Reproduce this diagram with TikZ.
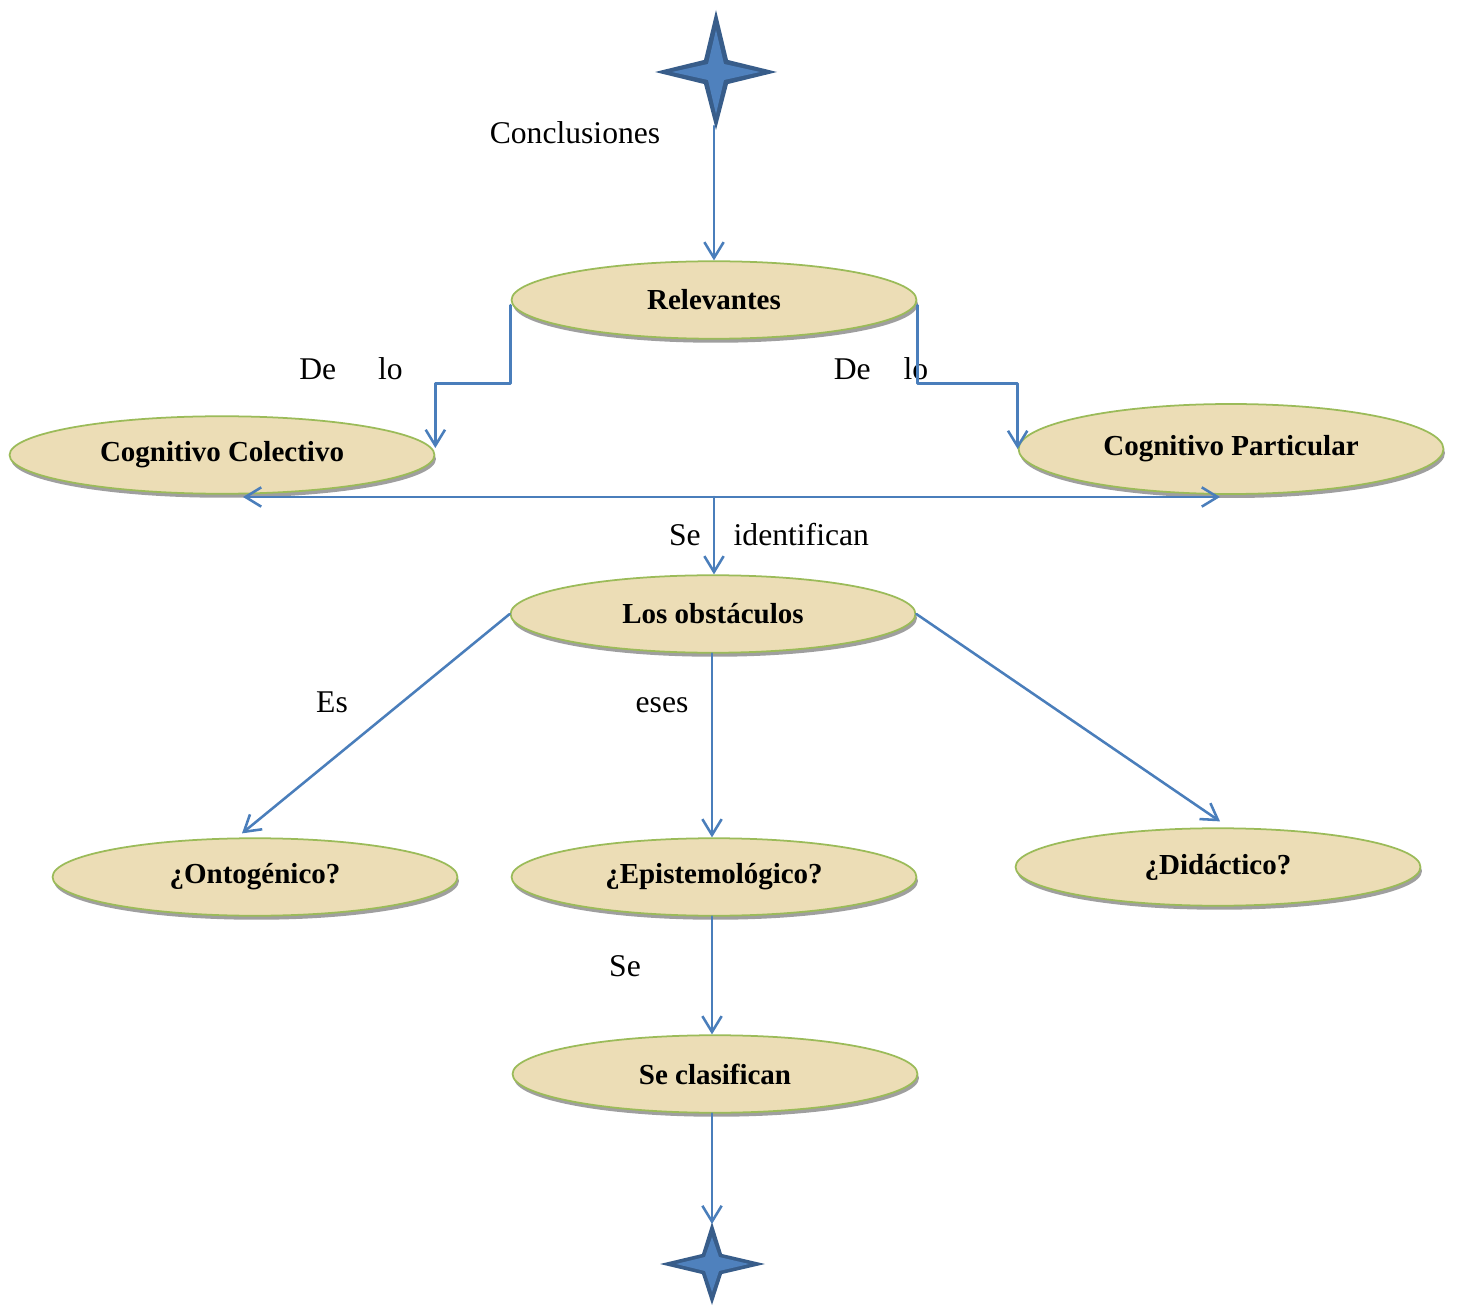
\documentclass[tikz,border=0pt]{standalone}
\usepackage{fontspec}
\setmainfont{Liberation Serif}
\usetikzlibrary{shapes.geometric,shadows,calc,arrows.meta}

\definecolor{linkblue}{RGB}{74,126,187}
\definecolor{stardark}{RGB}{56,93,138}
\definecolor{starlight}{RGB}{79,129,189}
\definecolor{parchment}{RGB}{236,221,182}
\definecolor{rimgreen}{RGB}{155,187,89}

\begin{document}
\begin{tikzpicture}[x=0.02cm,y=-0.02cm,line cap=round,line join=round,
    conn/.style={draw=linkblue,line width=1.45pt,-{Straight Barb[length=9pt,width=11pt]}},
    topic/.style={ellipse,draw=rimgreen,line width=1pt,fill=parchment,
      inner sep=0pt,minimum width=8.1cm,minimum height=1.55cm,
      font=\fontsize{16.5}{19}\selectfont\bfseries,
      drop shadow={shadow xshift=0.03cm,shadow yshift=-0.08cm,fill=gray!75,opacity=1}},
    tag/.style={anchor=base,inner sep=0pt,font=\fontsize{18}{21}\selectfont}]
  \useasboundingbox (0,0) rectangle (1458,1307);

  %--- Stars ----------------------------------------------------------------
  \fill[stardark] (716,10) -- (728,60) -- (777,72) -- (728,84) -- (716,130)
    -- (704,84) -- (655,72) -- (704,60) -- cycle;
  \fill[starlight] (716,30) -- (724,64) -- (760,72) -- (724,80) -- (716,114)
    -- (708,80) -- (672,72) -- (708,64) -- cycle;
  \coordinate (start) at (714,126);

  \fill[stardark] (712,1222) -- (722,1254) -- (765,1264) -- (722,1274) -- (712,1305)
    -- (702,1274) -- (660,1264) -- (702,1254) -- cycle;
  \fill[starlight] (712,1237) -- (719,1257) -- (749,1264) -- (719,1271) -- (712,1292)
    -- (705,1271) -- (676,1264) -- (705,1257) -- cycle;
  \coordinate (finish) at (712,1224);

  %--- Topics ---------------------------------------------------------------
  \node[topic] (rel) at (714,300) {Relevantes};
  \node[topic,minimum width=8.5cm] (col) at (222,455) {Cognitivo Colectivo};
  \node[topic,minimum width=8.5cm,minimum height=1.8cm] (par) at (1231,449) {Cognitivo Particular};
  \node[topic] (obs) at (713,614) {Los obst\'aculos};
  \node[topic] (onto) at (255,877) {¿Ontog\'enico?};
  \node[topic] (epi) at (714,877) {¿Epistemol\'ogico?};
  \node[topic] (did) at (1218,867) {¿Did\'actico?};
  \node[topic] (cla) at (715,1074) {Se clasifican};

  %--- Labels ---------------------------------------------------------------
  \node[tag] (l1) at (575,144) {Conclusiones};
  \node[tag] (l2) at (351,380) {De\hspace{0.84cm}lo};
  \node[tag] (l3) at (881,380) {De\hspace{0.66cm}lo};
  \node[tag] (l4) at (769,545) {Se\hspace{0.66cm}identifican};
  \node[tag] (l5) at (332,712) {Es};
  \node[tag] (l6) at (662,712) {eses};
  \node[tag] (l7) at (625,976) {Se};

  %--- Connectors -----------------------------------------------------------
  \coordinate (split) at (714,497);
  \coordinate (hl) at (243,497);
  \coordinate (hr) at (1220,497);

  \draw[conn] (start) -- (start |- rel.north);
  \draw[conn] ([yshift=-3pt]rel.west) -- ++(0,78) -| ([yshift=4pt]col.east);
  \draw[conn] ([yshift=-3pt]rel.east) -- ++(0,78) -| (par.west);
  \draw[conn] (split) -- (hl);
  \draw[conn] (split) -- (hr);
  \draw[conn] (split) -- (split |- obs.north);
  \draw[conn] (obs.west) -- ($(onto.north)+(-13,-4)$);
  \draw[conn] (finish |- obs.south) -- (finish |- epi.north);
  \draw[conn] (obs.east) -- ($(did.north)+(2,-6)$);
  \draw[conn] (finish |- epi.south) -- (finish |- cla.north);
  \draw[conn] (finish |- cla.south) -- (finish);
\end{tikzpicture}
\end{document}
